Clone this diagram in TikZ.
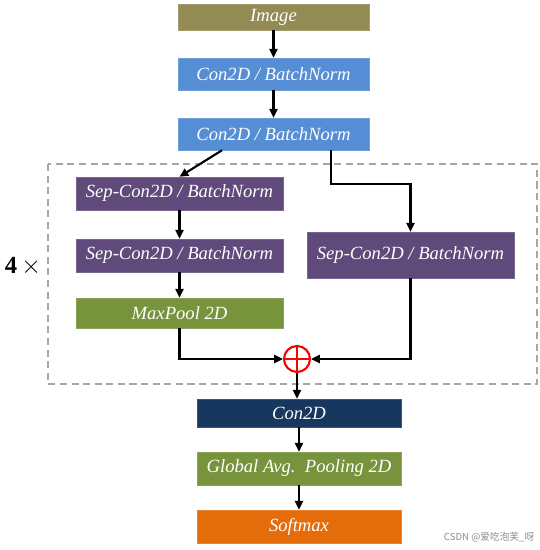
\documentclass[tikz,border=0pt]{standalone}
\usepackage{fontspec}
\setmainfont{Liberation Serif}
\newfontfamily\cjkfont{Noto Sans CJK SC}
\usepackage{xcolor}
\usetikzlibrary{arrows.meta, positioning, calc}
\definecolor{imgolive}{HTML}{948A54}
\definecolor{convblue}{HTML}{558ED5}
\definecolor{seppurple}{HTML}{604A7B}
\definecolor{poolgreen}{HTML}{77933C}
\definecolor{convnavy}{HTML}{17375E}
\definecolor{softorange}{HTML}{E46C0A}
\definecolor{dashgray}{HTML}{A6A6A6}

\begin{document}
\begin{tikzpicture}[x=0.02cm, y=-0.02cm,
		font=\fontsize{10.6}{12}\selectfont\itshape,
		layer/.style={rectangle, fill=#1, draw=#1!85!white, line width=0.3pt, text=white, inner sep=0pt},
		arr/.style={-{Triangle[length=5pt, width=4.6pt]}, line width=1.2pt, black}]
			\path[use as bounding box] (0,0) rectangle (539,550);
			\draw[dashgray, line width=1.1pt, dash pattern=on 4pt off 2.6pt] (48,164) rectangle (537,384);
			\node[layer=imgolive, minimum width=3.82cm, minimum height=0.52cm] (img) at (273.5,17) {Image};
			\node[layer=convblue, minimum width=3.82cm, minimum height=0.64cm] (conva) at (273.5,74) {Con2D / BatchNorm};
			\node[layer=convblue, minimum width=3.82cm, minimum height=0.64cm] (convb) at (273.5,134) {Con2D / BatchNorm};
			\node[layer=seppurple, minimum width=4.14cm, minimum height=0.66cm] (sepa) at (179.5,193.5) {Sep-Con2D / BatchNorm};
			\node[layer=seppurple, minimum width=4.14cm, minimum height=0.66cm] (sepb) at (179.5,255.5) {Sep-Con2D / BatchNorm};
			\node[layer=poolgreen, minimum width=4.14cm, minimum height=0.60cm] (pool) at (179.5,313) {MaxPool 2D};
			\node[layer=seppurple, minimum width=4.14cm, minimum height=0.92cm] (sepr) at (410.5,255) {Sep-Con2D / BatchNorm};
			\node[circle, draw=red, line width=1.2pt, minimum size=0.52cm, inner sep=0pt,
			path picture={\draw[red, line width=1.2pt] (path picture bounding box.north) -- (path picture bounding box.south)
				(path picture bounding box.west) -- (path picture bounding box.east);}] (add) at (297,359) {};
			\node[layer=convnavy, minimum width=4.08cm, minimum height=0.56cm] (convc) at (299,413) {Con2D};
			\node[layer=poolgreen, minimum width=4.08cm, minimum height=0.66cm] (gap) at (299,468.5) {Global Avg.\ \ Pooling 2D};
			\node[layer=softorange, minimum width=4.08cm, minimum height=0.66cm] (soft) at (299,526.5) {Softmax};
			\node[font=\fontsize{14}{16}\selectfont, text=black] (rep) at (23,266) {$\mathbf{4}\,\times$};
			\node[font=\cjkfont\fontsize{5.5}{7}\selectfont, text=black!45] (mark) at (489,537) {CSDN @爱吃泡芙\_呀};
			\draw[arr] (img) -- (conva);
			\draw[arr] (conva) -- (convb);
			\draw[arr] ([xshift=-1.03cm]convb.south) -- (sepa.north);
			\draw[arr] ([xshift=1.15cm]convb.south) -- ++(0,34) -| (sepr.north);
			\draw[arr] (sepa) -- (sepb);
			\draw[arr] (sepb) -- (pool);
			\draw[arr] (pool.south) |- (add.west);
			\draw[arr] (sepr.south) |- (add.east);
			\draw[arr] (add.south) -- (add.south |- convc.north);
			\draw[arr] (convc) -- (gap);
			\draw[arr] (gap) -- (soft);
		\end{tikzpicture}
\end{document}
